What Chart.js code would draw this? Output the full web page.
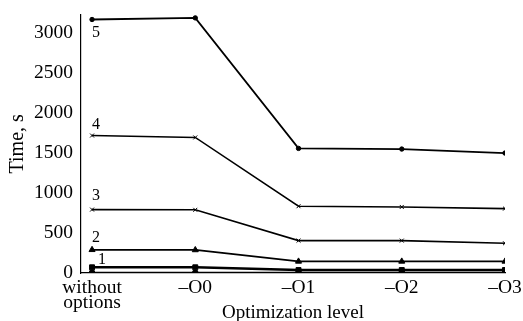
<!DOCTYPE html>
<html>
<head>
<meta charset="utf-8">
<script src="https://cdn.jsdelivr.net/npm/chart.js@4/dist/chart.umd.min.js"></script>
<style>
  html, body { margin: 0; padding: 0; background: #fff; }
  #wrap { width: 523px; height: 321px; }
</style>
</head>
<body>
<div id="wrap"><canvas id="c"></canvas></div>
<script>
// Optimization levels (x categories)
const LEVELS = [['without', 'options'], '–O0', '–O1', '–O2', '–O3'];
const Y_TICKS = [0, 500, 1000, 1500, 2000, 2500, 3000];

// Time, s for each curve
const S5 = [3170, 3190, 1558, 1550, 1500];
const S4 = [1719, 1695, 835, 826, 805];
const S3 = [793, 790, 405, 405, 372];
const S2 = [290, 288, 145, 145, 145];
const S1 = [71, 71, 37, 37, 37];
const S0 = [5, 5, 5, 5, 5];

const SERIES_NAMES = ['5', '4', '3', '2', '1', ''];

const FONT = "'Liberation Serif', 'Times New Roman', serif";

function ds(data, name, style, radius, width) {
  return {
    label: name,
    data: data.map((v, i) => ({ x: i, y: v })),
    borderColor: '#000',
    backgroundColor: '#000',
    borderWidth: width,
    pointStyle: style,
    pointRadius: radius,
    pointBorderWidth: 1,
    pointBorderColor: '#000',
    pointBackgroundColor: '#000',
    tension: 0
  };
}

// label offsets from the first point of each curve (style only)
const LABEL_OFF = { '5': [0, 18], '4': [0, -7], '3': [0, -10], '2': [0, -8], '1': [6, -3] };

const curveLabels = {
  id: 'curveLabels',
  afterDatasetsDraw(chart) {
    const ctx = chart.ctx;
    ctx.save();
    ctx.font = '16px ' + FONT;
    ctx.fillStyle = '#000';
    ctx.textAlign = 'left';
    ctx.textBaseline = 'alphabetic';
    chart.data.datasets.forEach((d, i) => {
      if (!d.label) return;
      const p = chart.getDatasetMeta(i).data[0];
      const off = LABEL_OFF[d.label];
      ctx.fillText(d.label, p.x + off[0], p.y + off[1]);
    });
    ctx.restore();
  }
};

new Chart(document.getElementById('c'), {
  type: 'line',
  data: {
    datasets: [
      ds(S5, SERIES_NAMES[0], 'circle', 2.2, 1.8),
      ds(S4, SERIES_NAMES[1], 'crossRot', 2.8, 1.6),
      ds(S3, SERIES_NAMES[2], 'crossRot', 2.8, 1.6),
      ds(S2, SERIES_NAMES[3], 'triangle', 3.5, 1.8),
      ds(S1, SERIES_NAMES[4], 'rect', 3.5, 2.5),
      ds(S0, SERIES_NAMES[5], 'circle', 2.8, 1.6)
    ]
  },
  options: {
    responsive: true,
    maintainAspectRatio: false,
    animation: false,
    layout: { padding: { top: 11, right: 0, left: 8, bottom: 0 } },
    plugins: { legend: { display: false }, tooltip: { enabled: false } },
    scales: {
      x: {
        type: 'linear',
        min: -0.107,
        max: 4,
        afterBuildTicks: s => { s.ticks = LEVELS.map((_, i) => ({ value: i })); },
        afterFit: s => { s.height = 48; s.paddingRight = 18; },
        grid: { display: false, drawTicks: false },
        border: { color: '#000', width: 1.2 },
        ticks: {
          color: '#000',
          padding: 8,
          maxRotation: 0,
          autoSkip: false,
          font: { family: FONT, size: 19.5, lineHeight: 0.74 },
          callback: v => LEVELS[v]
        },
        title: {
          display: true,
          text: 'Optimization level',
          color: '#000',
          font: { family: FONT, size: 19, lineHeight: 1 },
          padding: { top: 0, bottom: -2 }
        }
      },
      y: {
        min: 0,
        max: 3230,
        afterBuildTicks: s => { s.ticks = Y_TICKS.map(v => ({ value: v })); },
        afterFit: s => { s.width = 73; },
        grid: { display: false, drawTicks: true, tickLength: 5, tickColor: '#000' },
        border: { color: '#000', width: 1.2 },
        ticks: {
          color: '#000',
          padding: 3,
          font: { family: FONT, size: 19.5 },
          callback: v => String(v)
        },
        title: {
          display: true,
          text: 'Time, s',
          color: '#000',
          font: { family: FONT, size: 20, lineHeight: 1 },
          padding: { top: 0, bottom: 0 }
        }
      }
    }
  },
  plugins: [curveLabels]
});
</script>
</body>
</html>
